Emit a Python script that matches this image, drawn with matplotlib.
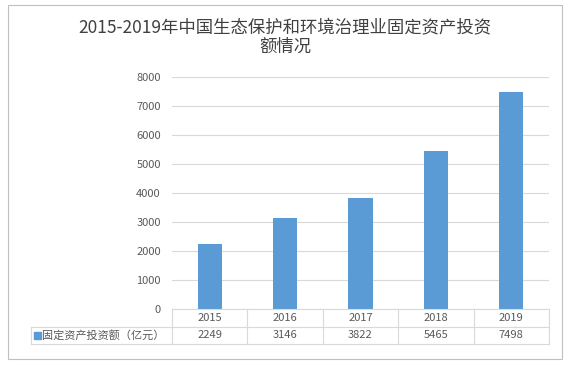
import matplotlib.pyplot as plt
from matplotlib.patches import Rectangle
from matplotlib.transforms import blended_transform_factory

plt.rcParams['font.family'] = ['Noto Sans CJK SC', 'DejaVu Sans']

years = ["2015", "2016", "2017", "2018", "2019"]
invest = [2249, 3146, 3822, 5465, 7498]
series_name = "固定资产投资额（亿元）"
title = "2015-2019年中国生态保护和环境治理业固定资产投资\n额情况"

W, H = 570, 368
bar_color = "#5B9BD5"
grid_color = "#D9D9D9"
text_color = "#595959"

fig = plt.figure(figsize=(W / 100, H / 100), dpi=100)

# outer chart border
fig.patches.append(Rectangle((8 / W, 1 - 359 / H), 554 / W, 354 / H,
                             transform=fig.transFigure, fill=False,
                             edgecolor="#BFBFBF", lw=0.8))

fig.text(0.5, 1 - 37 / H, title, ha="center", va="center", fontsize=12.5,
         color="#404040", linespacing=1.15)

ax = fig.add_axes([172 / W, 1 - 309 / H, (549 - 172) / W, (309 - 77) / H])
x = range(len(years))
ax.bar(x, invest, width=0.32, color=bar_color, zorder=2)
ax.set_xlim(-0.5, len(years) - 0.5)
ax.set_ylim(0, 8000)
ax.set_yticks(range(0, 8001, 1000))
ax.yaxis.grid(True, color=grid_color, lw=0.8)
ax.set_axisbelow(True)
ax.tick_params(axis="y", length=0, labelsize=8, labelcolor=text_color, pad=8)
ax.set_xticks([])
for s in ["top", "right", "left"]:
    ax.spines[s].set_visible(False)
ax.spines["bottom"].set_color(grid_color)

# data table under the axis
tr = blended_transform_factory(ax.transData, ax.transAxes)
row_h = 17.5 / (309 - 77)
y1, y2 = -row_h, -2 * row_h
for i in range(len(years) + 1):
    ax.plot([i - 0.5, i - 0.5], [0, y2], transform=tr, color=grid_color,
            lw=0.8, clip_on=False)
ax.plot([-0.5, len(years) - 0.5], [y1, y1], transform=tr, color=grid_color,
        lw=0.8, clip_on=False)
ax.plot([-0.5, len(years) - 0.5], [y2, y2], transform=tr, color=grid_color,
        lw=0.8, clip_on=False)
for i, (yr, v) in enumerate(zip(years, invest)):
    ax.text(i, y1 / 2, yr, transform=tr, ha="center", va="center",
            fontsize=8, color=text_color)
    ax.text(i, (y1 + y2) / 2, str(v), transform=tr, ha="center", va="center",
            fontsize=8, color=text_color)

# row label cell
x_left = (31 - 172) / (549 - 172)
ta = ax.transAxes
ax.plot([x_left, 0], [y1, y1], transform=ta, color=grid_color, lw=0.8, clip_on=False)
ax.plot([x_left, 0], [y2, y2], transform=ta, color=grid_color, lw=0.8, clip_on=False)
ax.plot([x_left, x_left], [y1, y2], transform=ta, color=grid_color, lw=0.8, clip_on=False)
ax.add_patch(Rectangle((x_left + 3 / 377, (y1 + y2) / 2 - 3.5 / 232), 7 / 377, 7 / 232,
                       transform=ta, color=bar_color, clip_on=False))
ax.text(x_left + 11 / 377, (y1 + y2) / 2, series_name, transform=ta, ha="left",
        va="center", fontsize=8, color=text_color)

fig.savefig("out.png", dpi=100, facecolor="white")
